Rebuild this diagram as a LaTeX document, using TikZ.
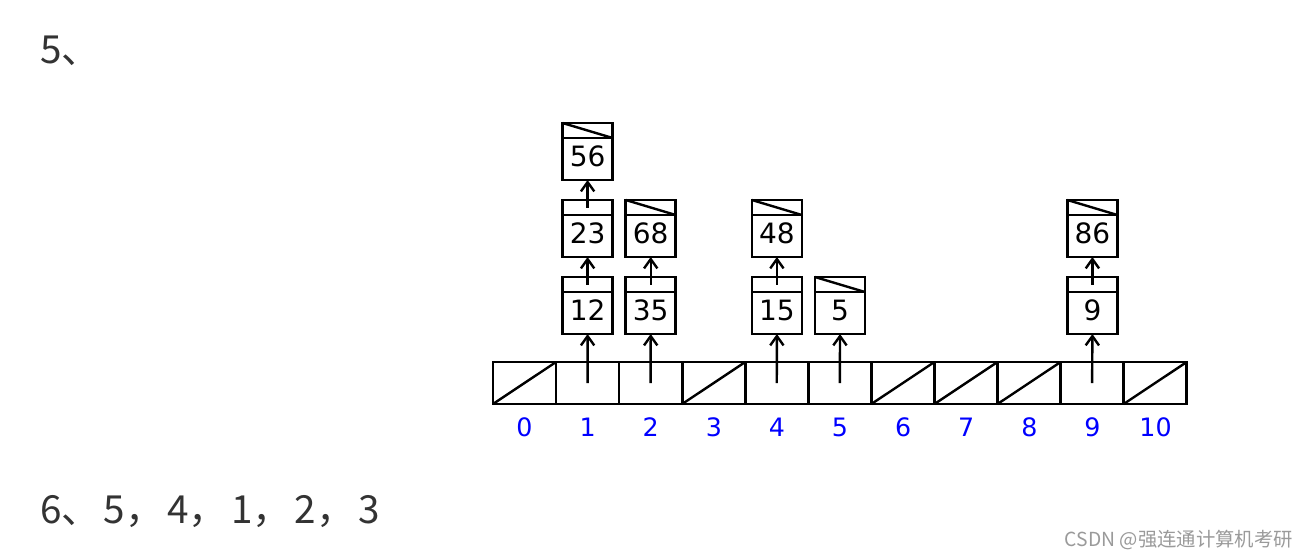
\documentclass[tikz,border=0pt]{standalone}
\usepackage{fontspec}
\setmainfont{DejaVu Sans}
\newfontfamily\cjk{Noto Sans CJK SC}
\usepackage{xcolor}
\usepackage{tikz}
\usetikzlibrary{positioning}
\usetikzlibrary{arrows.meta}
\definecolor{txtgray}{HTML}{333333}
\definecolor{idxblue}{HTML}{0000FF}
\definecolor{markgray}{HTML}{9A9A9A}
\tikzset{
	cellnode/.style={rectangle, draw, line width=2pt, outer sep=0pt, minimum width=47.3pt, minimum height=31.5pt, inner sep=0pt},
	ptrnode/.style={rectangle, draw, line width=2pt, outer sep=0pt, minimum width=37.5pt, minimum height=11.25pt, inner sep=0pt},
	datnode/.style={rectangle, draw, line width=2pt, outer sep=0pt, minimum width=37.5pt, minimum height=31.5pt, inner sep=0pt, font=\fontsize{21}{21}\selectfont, text height=1.1em, text depth=0pt}
}
\tikzset{
	idxnode/.style={text=idxblue, font=\fontsize{19}{19}\selectfont, inner sep=0pt},
	link/.style={-{Straight Barb[length=7pt, width=10pt, line width=1.8pt]}, line width=1.8pt},
	nullline/.style={line width=1.8pt}
}

\begin{document}
\begin{tikzpicture}[x=0.75pt, y=-0.75pt]
		\fill[white] (0,0) rectangle (1309,558);
		\useasboundingbox (0,0) rectangle (1309,558);
		%question numbers
		\node[anchor=base west, inner sep=0pt, text=txtgray, font=\cjk\fontsize{29}{29}\selectfont] at (40,63) (q5) {5、};
		\node[anchor=base west, inner sep=0pt, text=txtgray, font=\cjk\fontsize{29}{29}\selectfont] at (40,523) (q6) {6、\hspace{0.09em}5，\hspace{0.09em}4，\hspace{0.09em}1，\hspace{0.09em}2，\hspace{0.09em}3};
		
		%hash table
		\node[cellnode] at (524.5,383) (a0) {};
		\node[cellnode, right=0pt of a0] (a1) {};
		\node[cellnode, right=0pt of a1] (a2) {};
		\node[cellnode, right=0pt of a2] (a3) {};
		\node[cellnode, right=0pt of a3] (a4) {};
		\node[cellnode, right=0pt of a4] (a5) {};
		\node[cellnode, right=0pt of a5] (a6) {};
		\node[cellnode, right=0pt of a6] (a7) {};
		\node[cellnode, right=0pt of a7] (a8) {};
		\node[cellnode, right=0pt of a8] (a9) {};
		\node[cellnode, right=0pt of a9] (a10) {};
		
		\node[idxnode] at (524.5,427) (i0) {0};
		\node[idxnode] at (587.6,427) (i1) {1};
		\node[idxnode] at (650.7,427) (i2) {2};
		\node[idxnode] at (713.8,427) (i3) {3};
		\node[idxnode] at (776.9,427) (i4) {4};
		\node[idxnode] at (840.0,427) (i5) {5};
		\node[idxnode] at (903.1,427) (i6) {6};
		\node[idxnode] at (966.2,427) (i7) {7};
		\node[idxnode] at (1029.3,427) (i8) {8};
		\node[idxnode] at (1092.4,427) (i9) {9};
		\node[idxnode] at (1155.5,427) (i10) {10};
		
		%empty slots
		\draw[nullline] (a0.south west) -- (a0.north east);
		\draw[nullline] (a3.south west) -- (a3.north east);
		\draw[nullline] (a6.south west) -- (a6.north east);
		\draw[nullline] (a7.south west) -- (a7.north east);
		\draw[nullline] (a8.south west) -- (a8.north east);
		\draw[nullline] (a10.south west) -- (a10.north east);
		
		%chains
		\node[datnode] at (587.6,313) (d12) {12};
		\node[ptrnode, above=0pt of d12] (p12) {};
		\node[datnode] at (587.6,236) (d23) {23};
		\node[ptrnode, above=0pt of d23] (p23) {};
		\node[datnode] at (587.6,159) (d56) {56};
		\node[ptrnode, above=0pt of d56] (p56) {};
		
		\node[datnode] at (650.7,313) (d35) {35};
		\node[ptrnode, above=0pt of d35] (p35) {};
		\node[datnode] at (650.7,236) (d68) {68};
		\node[ptrnode, above=0pt of d68] (p68) {};
		
		\node[datnode] at (776.9,313) (d15) {15};
		\node[ptrnode, above=0pt of d15] (p15) {};
		\node[datnode] at (776.9,236) (d48) {48};
		\node[ptrnode, above=0pt of d48] (p48) {};
		
		\node[datnode] at (840.0,313) (d5) {5};
		\node[ptrnode, above=0pt of d5] (p5) {};
		
		\node[datnode] at (1092.4,313) (d9) {9};
		\node[ptrnode, above=0pt of d9] (p9) {};
		\node[datnode] at (1092.4,236) (d86) {86};
		\node[ptrnode, above=0pt of d86] (p86) {};
		
		%Lines
		\draw[link] (a1.center) -- (d12.south);
		\draw[link] (p12.center) -- (d23.south);
		\draw[link] (p23.center) -- (d56.south);
		\draw[link] (a2.center) -- (d35.south);
		\draw[link] (p35.center) -- (d68.south);
		\draw[link] (a4.center) -- (d15.south);
		\draw[link] (p15.center) -- (d48.south);
		\draw[link] (a5.center) -- (d5.south);
		\draw[link] (a9.center) -- (d9.south);
		\draw[link] (p9.center) -- (d86.south);
		
		%null pointers
		\draw[nullline] (p56.north west) -- (p56.south east);
		\draw[nullline] (p68.north west) -- (p68.south east);
		\draw[nullline] (p48.north west) -- (p48.south east);
		\draw[nullline] (p5.north west) -- (p5.south east);
		\draw[nullline] (p86.north west) -- (p86.south east);
		
		\node[anchor=east, inner sep=0pt, text=markgray, font=\cjk\fontsize{14.5}{14.5}\selectfont] at (1293,540) (mark) {CSDN @强连通计算机考研};
	\end{tikzpicture}
\end{document}
